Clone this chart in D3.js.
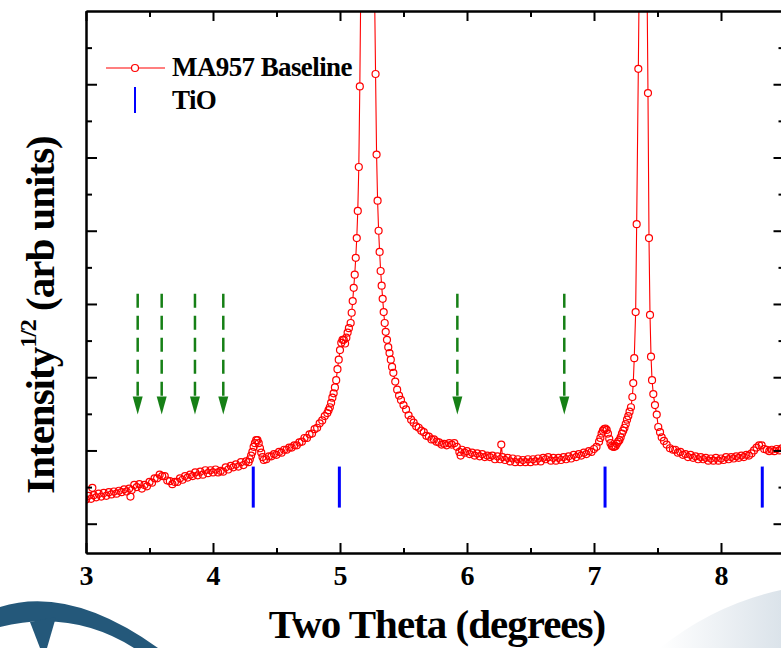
<!DOCTYPE html>
<html lang="en">
<head>
<meta charset="utf-8">
<title>MA957 Baseline</title>
<script src="https://d3js.org/d3.v7.min.js"></script>
<style>
    body { margin: 0; background: #fff; }
    svg text { font-family: "Liberation Serif", "Times New Roman", serif; font-weight: bold; }
</style>
</head>
<body>
<script>
// two theta (degrees) and sqrt intensity (arb units)
var twoTheta = [
    3.00,3.02,3.04,3.05,3.06,3.08,3.10,3.12,3.14,3.16,3.18,3.20,3.22,3.24,3.26,3.28,3.30,3.32,3.34,3.35,
    3.36,3.38,3.40,3.42,3.44,3.46,3.48,3.50,3.52,3.54,3.56,3.58,3.60,3.62,3.64,3.66,3.68,3.70,3.72,3.74,
    3.76,3.78,3.80,3.82,3.84,3.86,3.88,3.90,3.92,3.94,3.96,3.98,4.00,4.02,4.04,4.06,4.08,4.10,4.12,4.14,
    4.16,4.18,4.20,4.22,4.24,4.26,4.28,4.29,4.30,4.31,4.32,4.33,4.34,4.35,4.36,4.37,4.38,4.39,4.40,4.42,
    4.44,4.46,4.48,4.50,4.52,4.54,4.56,4.58,4.60,4.62,4.64,4.66,4.68,4.70,4.72,4.74,4.76,4.78,4.80,4.82,
    4.84,4.86,4.88,4.90,4.91,4.92,4.93,4.94,4.95,4.96,4.97,4.98,4.99,5.00,5.01,5.02,5.03,5.04,5.05,5.06,
    5.07,5.084,5.092,5.100,5.108,5.116,5.124,5.132,5.140,5.148,5.156,5.164,5.172,5.180,5.188,5.196,5.204,5.212,5.220,5.228,
    5.236,5.244,5.252,5.262,5.272,5.280,5.288,5.296,5.304,5.312,5.320,5.328,5.336,5.344,5.352,5.360,5.370,5.380,5.390,5.400,
    5.410,5.420,5.435,5.450,5.465,5.48,5.50,5.52,5.54,5.56,5.58,5.60,5.62,5.64,5.66,5.68,5.70,5.72,5.74,5.76,
    5.78,5.80,5.82,5.84,5.86,5.88,5.90,5.92,5.94,5.95,5.96,5.98,6.00,6.02,6.04,6.06,6.08,6.10,6.12,6.14,
    6.16,6.18,6.20,6.22,6.24,6.26,6.27,6.28,6.30,6.32,6.34,6.36,6.38,6.40,6.42,6.44,6.46,6.48,6.50,6.52,
    6.54,6.56,6.58,6.60,6.62,6.64,6.66,6.68,6.70,6.72,6.74,6.76,6.78,6.80,6.82,6.84,6.86,6.88,6.90,6.92,
    6.94,6.96,6.98,7.00,7.02,7.04,7.05,7.06,7.07,7.08,7.09,7.10,7.11,7.12,7.13,7.14,7.15,7.16,7.17,7.18,
    7.19,7.20,7.21,7.22,7.23,7.24,7.25,7.26,7.27,7.28,7.291,7.302,7.309,7.317,7.328,7.336,7.349,7.357,7.365,7.373,
    7.381,7.389,7.397,7.405,7.417,7.425,7.433,7.441,7.449,7.457,7.467,7.480,7.494,7.506,7.520,7.533,7.551,7.572,7.598,7.622,
    7.64,7.66,7.68,7.70,7.72,7.74,7.76,7.78,7.80,7.82,7.84,7.86,7.88,7.90,7.92,7.94,7.96,7.98,8.00,8.02,
    8.04,8.06,8.08,8.10,8.12,8.14,8.16,8.18,8.20,8.22,8.24,8.26,8.28,8.30,8.32,8.34,8.36,8.38,8.40,8.42,
    8.44,8.46,8.48,8.50
];
var sqrtIntensity = [
    1.33,1.38,1.34,1.49,1.39,1.36,1.41,1.37,1.42,1.38,1.43,1.40,1.44,1.41,1.45,1.43,1.47,1.44,1.48,1.37,
    1.46,1.53,1.50,1.54,1.48,1.53,1.51,1.57,1.56,1.62,1.62,1.67,1.65,1.65,1.59,1.58,1.54,1.57,1.57,1.62,
    1.60,1.65,1.63,1.67,1.65,1.70,1.66,1.71,1.67,1.73,1.69,1.73,1.70,1.74,1.70,1.72,1.71,1.77,1.74,1.79,
    1.77,1.81,1.78,1.84,1.80,1.85,1.84,1.88,1.93,1.98,2.05,2.10,2.14,2.14,2.10,2.03,1.97,1.91,1.87,1.88,
    1.92,1.92,1.95,1.94,1.98,1.97,2.01,2.01,2.04,2.04,2.07,2.07,2.11,2.12,2.17,2.17,2.22,2.23,2.29,2.31,
    2.37,2.41,2.47,2.51,2.55,2.59,2.65,2.72,2.78,2.86,2.96,3.11,3.24,3.37,3.47,3.51,3.51,3.46,3.54,3.61,
    3.67,3.74,3.88,4.04,4.22,4.40,4.63,4.90,5.27,5.87,6.97,8.4,11,14,17,20,22,23,22,20,
    17,14,11,9.2,8.3,7.14,6.04,5.41,5.00,4.71,4.45,4.25,4.07,3.89,3.74,3.62,3.51,3.41,3.33,3.24,
    3.14,3.06,2.94,2.83,2.75,2.69,2.62,2.56,2.48,2.42,2.38,2.33,2.31,2.27,2.25,2.20,2.19,2.15,2.15,2.12,
    2.11,2.08,2.09,2.07,2.10,2.08,2.10,2.05,1.98,1.93,2.01,1.97,1.99,1.95,1.97,1.93,1.96,1.92,1.95,1.91,
    1.93,1.91,1.93,1.88,1.92,1.88,2.08,1.91,1.87,1.90,1.85,1.89,1.84,1.88,1.84,1.87,1.84,1.88,1.84,1.88,
    1.85,1.89,1.85,1.90,1.88,1.91,1.86,1.90,1.86,1.90,1.87,1.91,1.88,1.92,1.89,1.94,1.91,1.95,1.93,1.97,
    1.95,1.99,1.98,2.02,2.05,2.12,2.17,2.23,2.27,2.29,2.30,2.28,2.23,2.16,2.10,2.06,2.05,2.05,2.06,2.09,
    2.12,2.14,2.18,2.23,2.27,2.31,2.36,2.42,2.47,2.53,2.59,2.73,2.92,3.26,3.89,5.09,7.21,8.6,11.5,14,
    15,14,12,10,8.5,6.88,4.90,3.85,3.28,2.96,2.77,2.62,2.49,2.32,2.25,2.18,2.13,2.08,2.03,2.01,
    2.01,1.97,1.98,1.94,1.95,1.91,1.94,1.90,1.92,1.88,1.91,1.88,1.90,1.86,1.89,1.86,1.90,1.86,1.89,1.87,
    1.91,1.88,1.91,1.89,1.92,1.90,1.93,1.91,1.94,1.93,1.96,2.00,2.04,2.07,2.07,2.02,2.01,1.99,2.01,1.99,
    2.02,2.00,2.03,2.02
];
var tioPeaks = [4.317, 4.995, 7.087, 8.325];
var arrowPos = [3.407, 3.596, 3.858, 4.081, 5.924, 6.766];
var xMajor = [3, 4, 5, 6, 7, 8];
var xMinor = [3.5, 4.5, 5.5, 6.5, 7.5];
var yMajor = [1, 2, 3, 4, 5, 6, 7];
var yMinor = [1.5, 2.5, 3.5, 4.5, 5.5, 6.5, 7.5];

var w = 781;
var h = 648;
var x = d3.scaleLinear().domain([3, 8.5]).range([86, 784.5]);
var y = d3.scaleLinear().domain([0.6, 8.0]).range([553, 11]);

var svg = d3.select("body").append("svg").attr("width", w).attr("height", h);

// faint background artwork at the bottom
var defs = svg.append("defs");
var grad = defs.append("linearGradient").attr("id", "fade").attr("x1", "0").attr("x2", "1");
grad.append("stop").attr("offset", "0").attr("stop-color", "#ffffff");
grad.append("stop").attr("offset", "1").attr("stop-color", "#dbe3ea");
svg.append("path")
    .attr("d", "M660,648 Q715,604 781,590 L781,648 Z")
    .attr("fill", "url(#fade)");
svg.append("path")
    .attr("d", "M0,607 Q70,585 158,648 L134,648 Q72,609 0,627 Z")
    .attr("fill", "#24587a");
svg.append("path")
    .attr("d", "M30,622 L56,617 L47,648 L40,648 Z")
    .attr("fill", "#24587a");

defs.append("clipPath").attr("id", "clip")
    .append("rect").attr("x", 86).attr("y", 11).attr("width", 700).attr("height", 542);

var pts = d3.zip(twoTheta, sqrtIntensity);
var plot = svg.append("g").attr("clip-path", "url(#clip)");

var line = d3.line()
    .x(function(d) { return x(d[0]); })
    .y(function(d) { return y(d[1]); });

plot.append("path")
    .datum(pts)
    .attr("d", line)
    .attr("fill", "none")
    .attr("stroke", "#ff0000")
    .attr("stroke-width", 1.1);

// white discs hide the line inside each symbol, outlines drawn on top so overlaps stay visible
plot.selectAll("circle.bg")
    .data(pts)
    .enter()
    .append("circle")
    .attr("class", "bg")
    .attr("cx", function(d) { return x(d[0]); })
    .attr("cy", function(d) { return y(d[1]); })
    .attr("r", 3.5)
    .attr("fill", "#fff");

plot.selectAll("circle.pt")
    .data(pts)
    .enter()
    .append("circle")
    .attr("class", "pt")
    .attr("cx", function(d) { return x(d[0]); })
    .attr("cy", function(d) { return y(d[1]); })
    .attr("r", 3.5)
    .attr("fill", "none")
    .attr("stroke", "#ff0000")
    .attr("stroke-width", 1.2);

// TiO reflection markers
plot.selectAll("line.tio")
    .data(tioPeaks)
    .enter()
    .append("line")
    .attr("class", "tio")
    .attr("x1", function(d) { return x(d); })
    .attr("x2", function(d) { return x(d); })
    .attr("y1", y(1.78))
    .attr("y2", y(1.22))
    .attr("stroke", "#0000ff")
    .attr("stroke-width", 3);

// dashed green arrows
var green = "#168016";
plot.selectAll("line.arrow")
    .data(arrowPos)
    .enter()
    .append("line")
    .attr("class", "arrow")
    .attr("x1", function(d) { return x(d); })
    .attr("x2", function(d) { return x(d); })
    .attr("y1", y(4.14))
    .attr("y2", y(2.49) - 18)
    .attr("stroke", green)
    .attr("stroke-width", 2.5)
    .attr("stroke-dasharray", "14,8");

plot.selectAll("path.head")
    .data(arrowPos)
    .enter()
    .append("path")
    .attr("class", "head")
    .attr("d", function(d) {
        var px = x(d), tip = y(2.49);
        return "M" + (px - 5) + "," + (tip - 18) + "L" + (px + 5) + "," + (tip - 18) + "L" + px + "," + tip + "Z";
    })
    .attr("fill", green);

// axes, ticks pointing inward
function styleAxis(g) {
    g.select(".domain").attr("stroke", "#000").attr("stroke-width", 2);
    g.selectAll(".tick line").attr("stroke", "#000").attr("stroke-width", 2);
}

svg.append("g")
    .attr("transform", "translate(0,553)")
    .call(d3.axisBottom(x).tickValues(xMajor).tickSize(-10).tickSizeOuter(0).tickPadding(12).tickFormat(d3.format("d")))
    .call(styleAxis)
    .attr("font-family", null)
    .attr("font-size", 28)
    .selectAll("text").attr("fill", "#000");
svg.append("g")
    .attr("transform", "translate(0,553)")
    .call(d3.axisBottom(x).tickValues(xMinor).tickSize(-5).tickSizeOuter(0).tickFormat(""))
    .call(styleAxis);

svg.append("g")
    .attr("transform", "translate(0,11)")
    .call(d3.axisTop(x).tickValues(xMajor).tickSize(-10).tickSizeOuter(0).tickFormat(""))
    .call(styleAxis);
svg.append("g")
    .attr("transform", "translate(0,11)")
    .call(d3.axisTop(x).tickValues(xMinor).tickSize(-6).tickSizeOuter(0).tickFormat(""))
    .call(styleAxis);

svg.append("g")
    .attr("transform", "translate(86,0)")
    .call(d3.axisLeft(y).tickValues(yMajor).tickSize(-11).tickSizeOuter(0).tickFormat(""))
    .call(styleAxis);
svg.append("g")
    .attr("transform", "translate(86,0)")
    .call(d3.axisLeft(y).tickValues(yMinor).tickSize(-6).tickSizeOuter(0).tickFormat(""))
    .call(styleAxis);

svg.append("g")
    .attr("transform", "translate(" + x(8.5) + ",0)")
    .call(d3.axisRight(y).tickValues(yMajor).tickSize(-11).tickSizeOuter(0).tickFormat(""))
    .call(styleAxis);
svg.append("g")
    .attr("transform", "translate(" + x(8.5) + ",0)")
    .call(d3.axisRight(y).tickValues(yMinor).tickSize(-6).tickSizeOuter(0).tickFormat(""))
    .call(styleAxis);

// axis titles
svg.append("text")
    .attr("x", 437)
    .attr("y", 638)
    .attr("text-anchor", "middle")
    .attr("font-size", 41)
    .attr("letter-spacing", -1)
    .text("Two Theta (degrees)");

var yt = svg.append("text")
    .attr("transform", "translate(54,315) rotate(-90)")
    .attr("text-anchor", "middle")
    .attr("font-size", 41)
    .attr("letter-spacing", -1);
yt.append("tspan").text("Intensity");
yt.append("tspan").attr("font-size", 24).attr("dy", -18).text("1/2");
yt.append("tspan").attr("dy", 18).text(" (arb units)");

// legend
svg.append("line").attr("x1", 106).attr("x2", 165).attr("y1", 68).attr("y2", 68)
    .attr("stroke", "#ff0000").attr("stroke-width", 1.1);
svg.append("circle").attr("cx", 135).attr("cy", 68).attr("r", 3.5)
    .attr("fill", "#fff").attr("stroke", "#ff0000").attr("stroke-width", 1.2);
svg.append("text").attr("x", 172).attr("y", 76).attr("font-size", 27).attr("letter-spacing", -0.6)
    .text("MA957 Baseline");
svg.append("line").attr("x1", 135).attr("x2", 135).attr("y1", 87).attr("y2", 113)
    .attr("stroke", "#0000ff").attr("stroke-width", 2);
svg.append("text").attr("x", 172).attr("y", 109).attr("font-size", 27).attr("letter-spacing", -0.6)
    .text("TiO");
</script>
</body>
</html>
